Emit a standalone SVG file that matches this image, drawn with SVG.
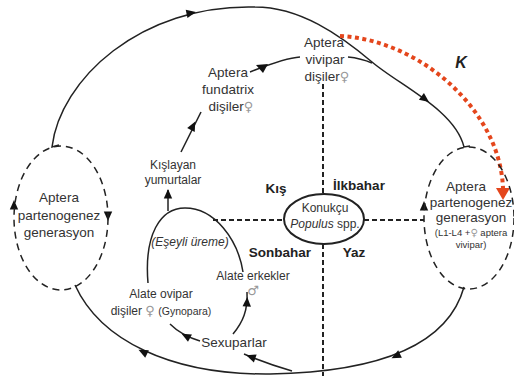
<svg xmlns="http://www.w3.org/2000/svg" xmlns:xlink="http://www.w3.org/1999/xlink" width="514" height="381" viewBox="0 0 514 381">
<defs>
<style>
.ln{fill:none;stroke:#222;stroke-width:1.5}
.dash{fill:none;stroke:#222;stroke-width:1.5;stroke-dasharray:7 5}
.cross{fill:none;stroke:#222;stroke-width:2;stroke-dasharray:5 3}
.t{font-family:"Liberation Sans",Arial,sans-serif;fill:#333;font-size:13.5px;text-anchor:middle}
.s{font-size:12px}
.xs{font-size:9.5px}
.b{font-weight:bold;fill:#222}
.g{fill:#999;font-family:"DejaVu Sans",sans-serif;font-size:13px}
.ah{fill:#111}
</style>
<path id="ah" d="M5,0 L-4.5,-4.2 L-4.5,4.2 Z"/>
</defs>
<rect width="514" height="381" fill="#fff"/>

<g id="connectors">
<path class="ln" d="M59,145 L52,147 C60,80 140,4 255,7 C300,7 340,35 372,62 C399,85 455,110 464,147 L470,146"/>
<path class="ln" d="M464,287 C448,345 380,372 270,374 C170,375 100,340 75,285"/>
<path class="ln" d="M250,72 C265,66 285,58 300,57"/>
<path class="ln" d="M348,57 C358,58 365,60 372,63"/>
<path class="ln" d="M181,152 L201,112"/>
<path class="ln" d="M168,211 L168,190"/>
<path class="ln" d="M148,283 C144,235 160,208 185,208 C215,208 238,240 243,272"/>
<path class="ln" d="M200,341 C190,338 178,332 170,324"/>
<path class="ln" d="M233,334 C243,322 248,310 247,292"/>
<path class="ln" d="M292,371 C275,366 258,360 244,354"/>
<path class="cross" d="M323,84 L323,194 M323,244 L323,376 M213,220 L284,220 M364,220 L424,220"/>
<path d="M340,36 C420,40 500,110 503,188" fill="none" stroke="#e4461c" stroke-width="4" stroke-dasharray="4 3.5"/>
<path d="M496,188 L510,188 L503,200 Z" fill="#e4461c"/>
<use href="#ah" class="ah" transform="translate(191,13) rotate(-12)"/>
<use href="#ah" class="ah" transform="translate(425,99) rotate(37)"/>
<use href="#ah" class="ah" transform="translate(396,356) rotate(154)"/>
<use href="#ah" class="ah" transform="translate(143,352) rotate(206)"/>
<path class="ah" d="M256,65 L268,64 L263,73 Z"/>
<use href="#ah" class="ah" transform="translate(193,126) rotate(-63)"/>
<use href="#ah" class="ah" transform="translate(168,194) rotate(-90)"/>
<use href="#ah" class="ah" transform="translate(247,302) rotate(-87)"/>
<use href="#ah" class="ah" transform="translate(186,336) rotate(208)"/>
<use href="#ah" class="ah" transform="translate(251,357) rotate(199)"/>
<use href="#ah" class="ah" transform="translate(14,205) rotate(-90)"/>
<use href="#ah" class="ah" transform="translate(108,216) rotate(90)"/>
<use href="#ah" class="ah" transform="translate(424,206) rotate(-90)"/>
</g>

<g id="host">
<ellipse cx="324" cy="219" rx="40" ry="25" fill="#fff" stroke="#222" stroke-width="2"/>
<text class="t s" x="325" y="212">Konukçu</text>
<text class="t s" x="325" y="228"><tspan font-style="italic">Populus</tspan> spp.</text>
</g>

<g id="seasons">
<text class="t b" x="276" y="193">Kış</text>
<text class="t b" x="359" y="190">İlkbahar</text>
<text class="t b" x="280" y="257">Sonbahar</text>
<text class="t b" x="354" y="257">Yaz</text>
</g>

<g id="left-generation">
<ellipse class="dash" cx="61" cy="218" rx="47" ry="72"/>
<text class="t" x="59" y="202">Aptera</text>
<text class="t" x="59" y="220">partenogenez</text>
<text class="t" x="59" y="237">generasyon</text>
</g>

<g id="right-generation">
<ellipse class="dash" cx="469" cy="218" rx="45" ry="71"/>
<text class="t" x="466" y="191">Aptera</text>
<text class="t" x="471" y="207">partenogenez</text>
<text class="t" x="471" y="222">generasyon</text>
<text class="t xs" x="471" y="236">(L1-L4 +<tspan class="g" style="font-size:10px">♀</tspan> aptera</text>
<text class="t xs" x="471" y="248">vivipar)</text>
</g>

<g id="vivipar">
<text class="t" x="324" y="47">Aptera</text>
<text class="t" x="325" y="64">vivipar</text>
<text class="t" x="327" y="81">dişiler<tspan class="g">♀</tspan></text>
</g>

<g id="fundatrix">
<text class="t" x="228" y="77">Aptera</text>
<text class="t" x="228" y="94">fundatrix</text>
<text class="t" x="231" y="111">dişiler<tspan class="g">♀</tspan></text>
</g>

<g id="eggs">
<text class="t s" x="173" y="169">Kışlayan</text>
<text class="t s" x="173" y="184">yumurtalar</text>
</g>

<g id="sexual">
<text class="t s" x="190" y="246" font-style="italic">(Eşeyli üreme)</text>
</g>

<g id="males">
<text class="t s" x="253" y="280">Alate erkekler</text>
<text class="t g" x="253" y="295">♂</text>
</g>

<g id="gynopara">
<text class="t s" x="161" y="298">Alate ovipar</text>
<text class="t s" x="161" y="315">dişiler <tspan class="g">♀</tspan> <tspan style="font-size:10.5px">(Gynopara)</tspan></text>
</g>

<g id="sexuparlar">
<text class="t" x="234" y="347">Sexuparlar</text>
</g>

<g id="k-label">
<text class="t b" x="461" y="68" style="font-size:16px;font-style:italic">K</text>
</g>
</svg>
